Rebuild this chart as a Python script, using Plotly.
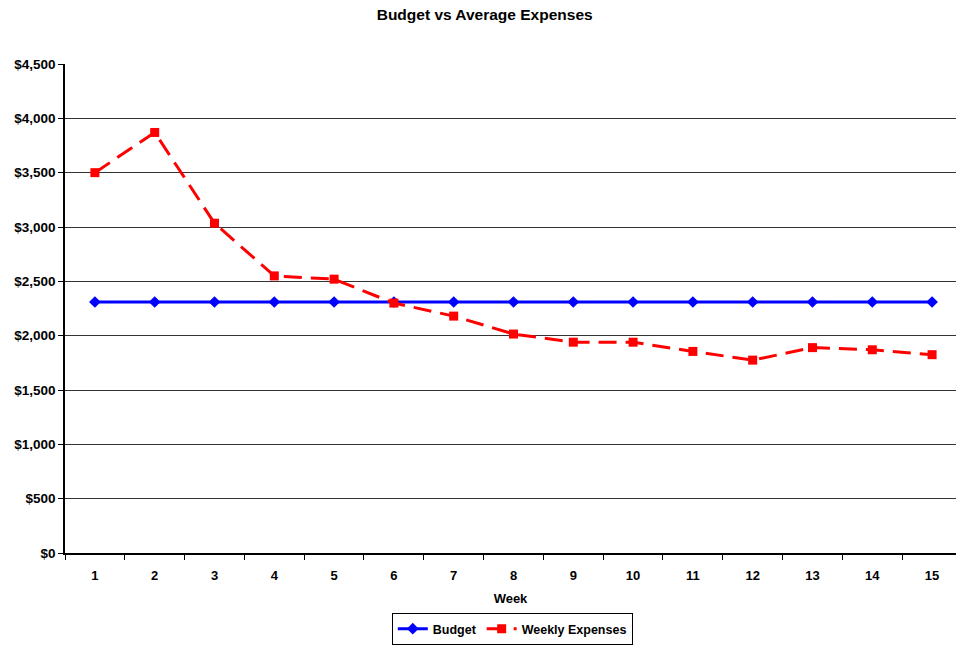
import plotly.graph_objects as go

weeks = list(range(1, 16))
budget = [2310] * 15
weekly_expenses = [3500, 3870, 3035, 2550, 2520, 2300, 2180, 2015, 1940, 1940, 1855, 1775, 1890, 1870, 1825]
y_tickvals = [0, 500, 1000, 1500, 2000, 2500, 3000, 3500, 4000, 4500]
y_ticktext = ["$0", "$500", "$1,000", "$1,500", "$2,000", "$2,500", "$3,000", "$3,500", "$4,000", "$4,500"]

FONT = "Liberation Sans, Arial, sans-serif"

fig = go.Figure()
fig.add_trace(go.Scatter(
    x=weeks, y=budget, name="<b>Budget</b>", mode="lines+markers",
    line=dict(color="#0000FF", width=3),
    marker=dict(symbol="diamond", size=9, color="#0000FF"),
))
fig.add_trace(go.Scatter(
    x=weeks, y=weekly_expenses, name="<b>Weekly Expenses</b>", mode="lines+markers",
    line=dict(color="#FF0000", width=3, dash="18px,9px"),
    marker=dict(symbol="square", size=9, color="#FF0000"),
))

fig.update_layout(
    width=956, height=645,
    paper_bgcolor="white", plot_bgcolor="white",
    margin=dict(l=65, r=0, t=64, b=92),
    font=dict(family=FONT, size=13, color="black"),
    title=dict(text="<b>Budget vs Average Expenses</b>", x=0.507, xanchor="center",
               xref="container", yref="container",
               y=1 - 15 / 645, yanchor="middle", font=dict(size=15.5, family=FONT)),
    showlegend=True,
    legend=dict(orientation="h", x=0.502, xanchor="center", y=-(645 - 553) / 489, yanchor="bottom",
                bordercolor="black", borderwidth=1, font=dict(size=12.5, family=FONT),
                tracegroupgap=0, itemsizing="trace"),
    xaxis=dict(
        range=[0.5, 15.4], tickmode="array", tickvals=weeks,
        ticktext=[f"<b>{w}</b>" for w in weeks],
        ticks="", showgrid=False, zeroline=False,
        showline=True, linecolor="black", linewidth=1.5,
        tickfont=dict(size=13, family=FONT), ticklabelstandoff=10,
        title=dict(text="<b>Week</b>", font=dict(size=13, family=FONT), standoff=12),
        minor=dict(tickmode="array", tickvals=[k + 0.5 for k in range(0, 15)],
                   ticks="outside", ticklen=5, tickcolor="black", tickwidth=1, showgrid=False),
    ),
    yaxis=dict(
        range=[0, 4500], tickmode="array", tickvals=y_tickvals,
        ticktext=[f"<b>{t}</b>" for t in y_ticktext],
        ticks="outside", ticklen=5, tickcolor="black",
        showgrid=True, gridcolor="#333333", gridwidth=1, zeroline=False,
        showline=True, linecolor="black", linewidth=1.5,
        tickfont=dict(size=13.5, family=FONT),
    ),
)

fig.write_html("out.html", config={"displayModeBar": False},
               post_script="document.body.style.margin='0';document.body.style.overflow='hidden';")
